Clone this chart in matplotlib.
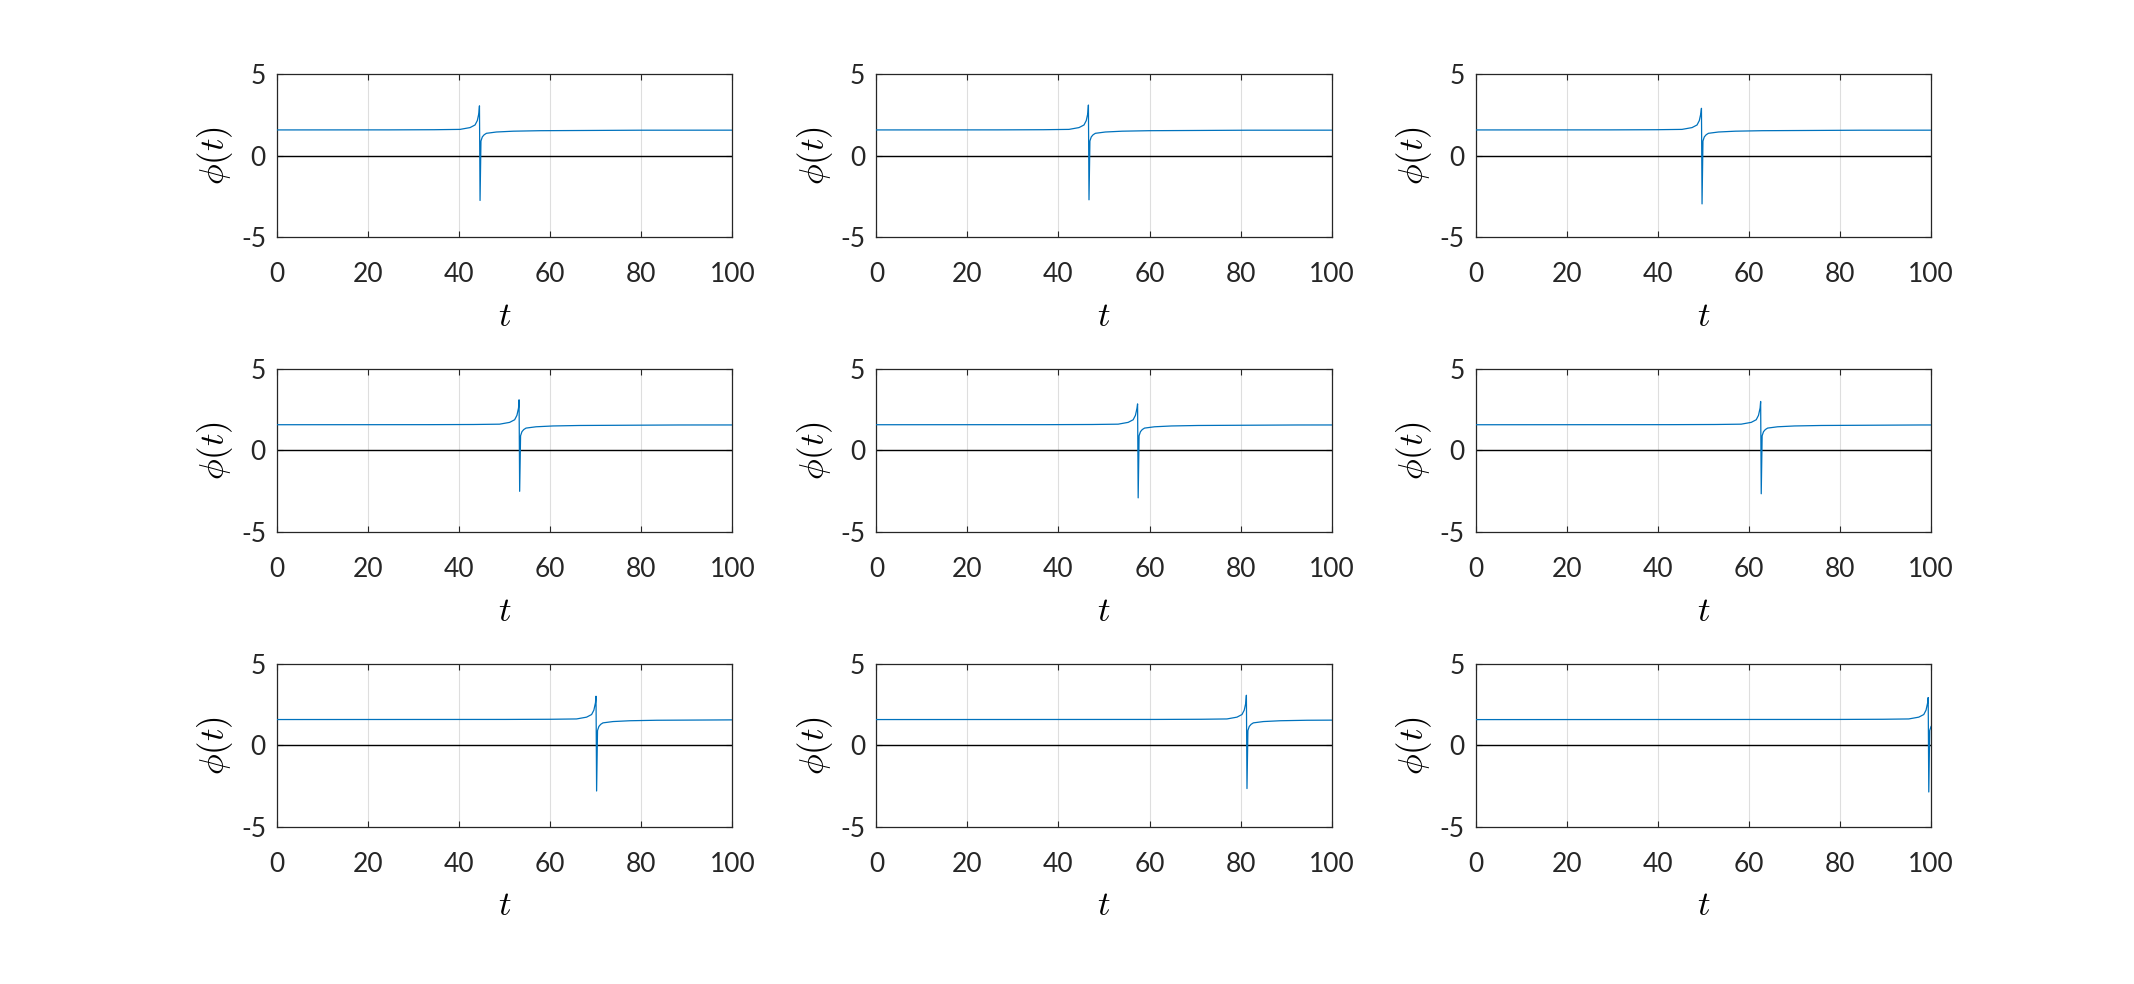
import numpy as np
import matplotlib
matplotlib.use('Agg')
import matplotlib.pyplot as plt

plt.rcParams['font.family'] = ['Lato', 'DejaVu Sans']
plt.rcParams['mathtext.fontset'] = 'cm'
plt.rcParams['axes.unicode_minus'] = False

# spike position, peak and trough of phi(t) in each panel
centers = [44.5, 46.6, 49.6, 53.2, 57.4, 62.6, 70.1, 81.3, 99.4]
peaks = [3.05, 3.1, 2.9, 3.1, 2.85, 3.0, 3.0, 3.06, 2.92]
troughs = [-2.74, -2.7, -2.95, -2.5, -2.9, -2.65, -2.8, -2.65, -2.86]

# shape of the curve around the spike (offset from spike, phi)
left_dt = [-100, -20, -10, -4.3, -2.1, -1.0, -0.5, -0.15]
left_phi = [1.57, 1.58, 1.59, 1.61, 1.72, 1.88, 2.15, 2.6]
right_dt = [0.3, 0.6, 1.0, 1.5, 3.7, 7.4, 13.3, 35, 100]
right_phi = [0.9, 1.15, 1.28, 1.37, 1.45, 1.50, 1.53, 1.56, 1.57]

xticks = [0, 20, 40, 60, 80, 100]
yticks = [-5, 0, 5]

fig, axes = plt.subplots(3, 3, figsize=(21.34, 9.84), dpi=100)
fig.subplots_adjust(left=0.1298, right=0.9049, top=0.9248, bottom=0.1596,
                    wspace=0.3165, hspace=0.804)

for k, ax in enumerate(axes.flat):
    c = centers[k]
    t = [c + d for d in left_dt] + [c - 0.03, c + 0.1] + [c + d for d in right_dt]
    phi = left_phi + [peaks[k], troughs[k]] + right_phi
    ax.plot(t, phi, color='#0072BD', lw=0.9, zorder=3)
    ax.axhline(0, color='black', lw=1.0, zorder=2)
    ax.set_xlim(0, 100)
    ax.set_ylim(-5, 5)
    ax.set_xticks(xticks)
    ax.set_yticks(yticks)
    ax.grid(True, color='#dedede', lw=0.8, zorder=0)
    ax.tick_params(direction='in', top=True, right=True, length=4, width=0.8,
                   labelsize=19, pad=8, colors='#262626')
    ax.tick_params(axis='x', pad=18)
    for s in ax.spines.values():
        s.set_linewidth(0.9)
        s.set_color('#262626')
    ax.set_xlabel('$t$', fontsize=25, labelpad=9)
    ax.set_ylabel(r'$\phi(t)$', fontsize=25, labelpad=4)

fig.savefig('out.png', dpi=100)
